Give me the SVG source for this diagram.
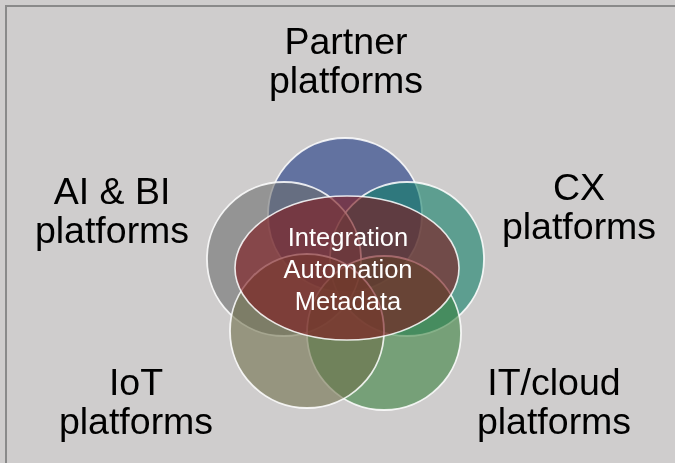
<svg xmlns="http://www.w3.org/2000/svg" width="675" height="463" viewBox="0 0 675 463">
<style>
.lbl{font-family:"Liberation Sans",Arial,sans-serif;font-size:37.5px;fill:#000;text-anchor:middle}
.ctr{font-family:"Liberation Sans",Arial,sans-serif;font-size:25.5px;fill:#fff;text-anchor:middle}
.f{fill-opacity:0.5}
.m{fill:#d9d9d9;mix-blend-mode:multiply}
.s{fill:none;stroke:#ffffff;stroke-opacity:0.85;stroke-width:1.8}
</style>
<rect x="0" y="0" width="675" height="463" fill="#cfcdcd"/>
<path d="M6 463 V6 H675" fill="none" stroke="#8a8a8a" stroke-width="2"/>
<g id="diagram">
<g id="node-partner">
<circle class="f" cx="345" cy="215" r="77" fill="#173fab"/>
<circle class="m" cx="345" cy="215" r="77"/>
<circle class="s" cx="345" cy="215" r="77"/>
<text class="lbl" x="346" y="54">Partner</text>
<text class="lbl" x="346" y="93">platforms</text>
</g>
<g id="node-cx">
<circle class="f" cx="407" cy="259" r="77" fill="#0ba785"/>
<circle class="m" cx="407" cy="259" r="77"/>
<circle class="s" cx="407" cy="259" r="77"/>
<text class="lbl" x="579" y="200">CX</text>
<text class="lbl" x="579" y="239">platforms</text>
</g>
<g id="node-ai-bi">
<circle class="f" cx="284" cy="259" r="77" fill="#8d8f8f"/>
<circle class="m" cx="284" cy="259" r="77"/>
<circle class="s" cx="284" cy="259" r="77"/>
<text class="lbl" x="112" y="204">AI &amp; BI</text>
<text class="lbl" x="112" y="243">platforms</text>
</g>
<g id="node-itcloud">
<circle class="f" cx="384" cy="333" r="77" fill="#47ab4d"/>
<circle class="m" cx="384" cy="333" r="77"/>
<circle class="s" cx="384" cy="333" r="77"/>
<text class="lbl" x="554" y="395">IT/cloud</text>
<text class="lbl" x="554" y="434">platforms</text>
</g>
<g id="node-iot">
<circle class="f" cx="307" cy="331" r="77" fill="#91915d"/>
<circle class="m" cx="307" cy="331" r="77"/>
<circle class="s" cx="307" cy="331" r="77"/>
<text class="lbl" x="136" y="395">IoT</text>
<text class="lbl" x="136" y="434">platforms</text>
</g>
<g id="node-core">
<ellipse cx="347" cy="268" rx="112" ry="72" fill="#7e181d" fill-opacity="0.62" stroke="#ffffff" stroke-opacity="0.85" stroke-width="1.6"/>
<text class="ctr" x="348" y="246">Integration</text>
<text class="ctr" x="348" y="278">Automation</text>
<text class="ctr" x="348" y="310">Metadata</text>
</g>
</g>
<g id="connectors"/>
</svg>
